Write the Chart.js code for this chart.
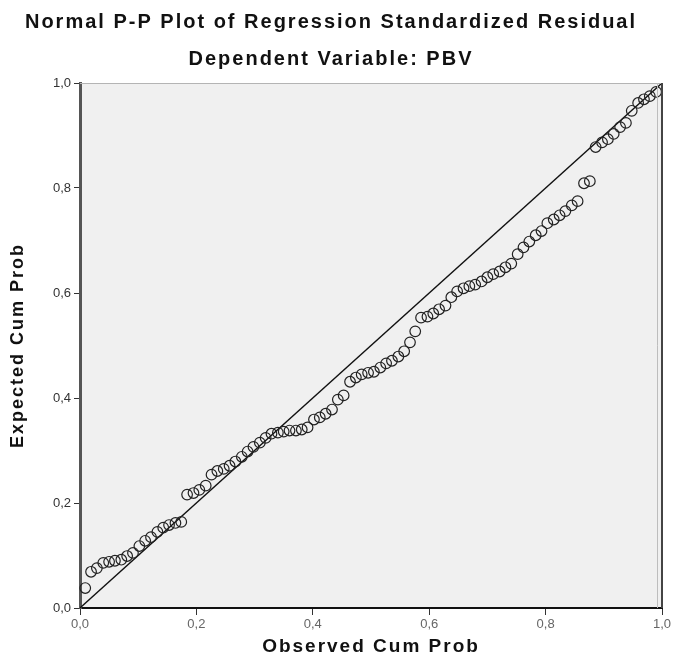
<!DOCTYPE html>
<html>
<head>
<meta charset="utf-8">
<title>Normal P-P Plot</title>
<script src="https://cdn.jsdelivr.net/npm/chart.js@4"></script>
<style>
  body { margin: 0; background: #fff; }
  canvas { display: block; }
</style>
</head>
<body>
<canvas id="ppChart" width="675" height="669"></canvas>
<script>
// observed cumulative probability (x)
const observedCumProb = [
  0.009, 0.019, 0.029, 0.040, 0.050, 0.060, 0.071, 0.081, 0.091, 0.102,
  0.112, 0.122, 0.133, 0.143, 0.153, 0.164, 0.174, 0.184, 0.195, 0.205,
  0.216, 0.226, 0.236, 0.247, 0.257, 0.267, 0.278, 0.288, 0.298, 0.309,
  0.319, 0.329, 0.340, 0.350, 0.360, 0.371, 0.381, 0.391, 0.402, 0.412,
  0.422, 0.433, 0.443, 0.453, 0.464, 0.474, 0.484, 0.495, 0.505, 0.516,
  0.526, 0.536, 0.547, 0.557, 0.567, 0.576, 0.586, 0.597, 0.607, 0.617,
  0.628, 0.638, 0.648, 0.659, 0.669, 0.679, 0.690, 0.700, 0.710, 0.721,
  0.731, 0.741, 0.752, 0.762, 0.772, 0.783, 0.793, 0.803, 0.814, 0.824,
  0.834, 0.845, 0.855, 0.866, 0.876, 0.886, 0.897, 0.907, 0.917, 0.928,
  0.938, 0.948, 0.959, 0.969, 0.979, 0.990
];

// expected cumulative probability (y)
const expectedCumProb = [
  0.038, 0.069, 0.076, 0.086, 0.088, 0.090, 0.092, 0.099, 0.105, 0.118,
  0.128, 0.135, 0.145, 0.153, 0.158, 0.162, 0.164, 0.216, 0.219, 0.225,
  0.233, 0.254, 0.261, 0.265, 0.271, 0.279, 0.288, 0.298, 0.307, 0.315,
  0.324, 0.332, 0.334, 0.336, 0.338, 0.338, 0.340, 0.344, 0.359, 0.363,
  0.370, 0.378, 0.397, 0.405, 0.431, 0.439, 0.445, 0.448, 0.450, 0.458,
  0.466, 0.471, 0.479, 0.489, 0.506, 0.527, 0.553, 0.555, 0.561, 0.569,
  0.576, 0.592, 0.603, 0.609, 0.613, 0.616, 0.622, 0.630, 0.636, 0.641,
  0.649, 0.656, 0.674, 0.687, 0.698, 0.710, 0.718, 0.733, 0.740, 0.748,
  0.756, 0.767, 0.775, 0.809, 0.813, 0.878, 0.887, 0.893, 0.903, 0.916,
  0.924, 0.947, 0.962, 0.969, 0.975, 0.983
];

// reference diagonal end points
const diagonalX = [0, 1];
const diagonalY = [0, 1];

const axisMin = 0;
const axisMax = 1;
const axisStep = 0.2;

const points = observedCumProb.map((x, i) => ({ x: x, y: expectedCumProb[i] }));
const diagonal = diagonalX.map((x, i) => ({ x: x, y: diagonalY[i] }));

const FONT = '"Liberation Sans", Arial, sans-serif';

function commaTick(value) {
    return Number(value).toFixed(1).replace('.', ',');
}

// grey plot background, wide-spaced titles, frame on top and right
const framePlugin = {
    id: 'frame',
    beforeDraw(chart) {
        const a = chart.chartArea;
        const ctx = chart.ctx;
        ctx.save();
        ctx.fillStyle = '#f0f0f0';
        ctx.fillRect(a.left, a.top, a.right - a.left, a.bottom - a.top);
        ctx.restore();
        // titles are drawn before the datasets, tick labels after (ticks.z = 1)
        ctx.letterSpacing = '2px';
    },
    afterDatasetsDraw(chart) {
        chart.ctx.letterSpacing = '0px';
    },
    afterDraw(chart) {
        const a = chart.chartArea;
        const ctx = chart.ctx;
        ctx.save();
        ctx.strokeStyle = '#b4b4b4';
        ctx.lineWidth = 1;
        ctx.beginPath();
        ctx.moveTo(a.left, a.top + 0.5);
        ctx.lineTo(a.right, a.top + 0.5);
        ctx.stroke();
        ctx.strokeStyle = '#bdbdbd';
        ctx.beginPath();
        ctx.moveTo(a.right - 4.5, a.top);
        ctx.lineTo(a.right - 4.5, a.bottom);
        ctx.stroke();
        ctx.strokeStyle = '#444';
        ctx.lineWidth = 2;
        ctx.beginPath();
        ctx.moveTo(a.right, a.top);
        ctx.lineTo(a.right, a.bottom);
        ctx.stroke();
        ctx.restore();
    }
};

new Chart(document.getElementById('ppChart'), {
    type: 'scatter',
    data: {
        datasets: [{
            label: 'Residuals',
            data: points,
            pointRadius: 5.3,
            pointHoverRadius: 5.3,
            pointBorderWidth: 1.2,
            borderColor: '#222',
            backgroundColor: 'rgba(0,0,0,0)',
            clip: false
        }, {
            type: 'line',
            label: 'Diagonal',
            data: diagonal,
            borderColor: '#111',
            borderWidth: 1.3,
            pointRadius: 0,
            fill: false
        }]
    },
    options: {
        responsive: false,
        devicePixelRatio: 1,
        animation: false,
        layout: { padding: { left: 0, right: 13, top: 0, bottom: 0 } },
        plugins: {
            legend: { display: false },
            tooltip: { enabled: false },
            title: {
                display: true,
                text: 'Normal P-P Plot of Regression Standardized Residual',
                color: '#111',
                font: { family: FONT, size: 20, weight: 'bold' },
                padding: { top: 10, bottom: 13 }
            },
            subtitle: {
                display: true,
                text: 'Dependent Variable: PBV',
                color: '#111',
                font: { family: FONT, size: 20, weight: 'bold' },
                padding: { top: 0, bottom: 12 }
            }
        },
        scales: {
            x: {
                type: 'linear',
                min: axisMin,
                max: axisMax,
                afterFit: scale => { scale.height = 61; },
                border: { color: '#111', width: 2 },
                grid: { drawOnChartArea: false, drawTicks: true, tickLength: 7, tickColor: '#333' },
                ticks: {
                    z: 1,
                    stepSize: axisStep,
                    padding: 2,
                    color: '#666',
                    font: { family: FONT, size: 13 },
                    callback: commaTick
                },
                title: {
                    display: true,
                    text: 'Observed Cum Prob',
                    color: '#111',
                    font: { family: FONT, size: 19, weight: 'bold' },
                    padding: { top: 0, bottom: 11 }
                }
            },
            y: {
                type: 'linear',
                min: axisMin,
                max: axisMax,
                afterFit: scale => { scale.width = 80; },
                border: { color: '#555', width: 3 },
                grid: { drawOnChartArea: false, drawTicks: true, tickLength: 6, tickColor: '#333' },
                ticks: {
                    z: 1,
                    stepSize: axisStep,
                    padding: 3,
                    color: '#333',
                    font: { family: FONT, size: 13 },
                    callback: commaTick
                },
                title: {
                    display: true,
                    text: 'Expected Cum Prob',
                    color: '#111',
                    font: { family: FONT, size: 18, weight: 'bold' },
                    padding: { top: 7, bottom: 0 }
                }
            }
        }
    },
    plugins: [framePlugin]
});
</script>
</body>
</html>
